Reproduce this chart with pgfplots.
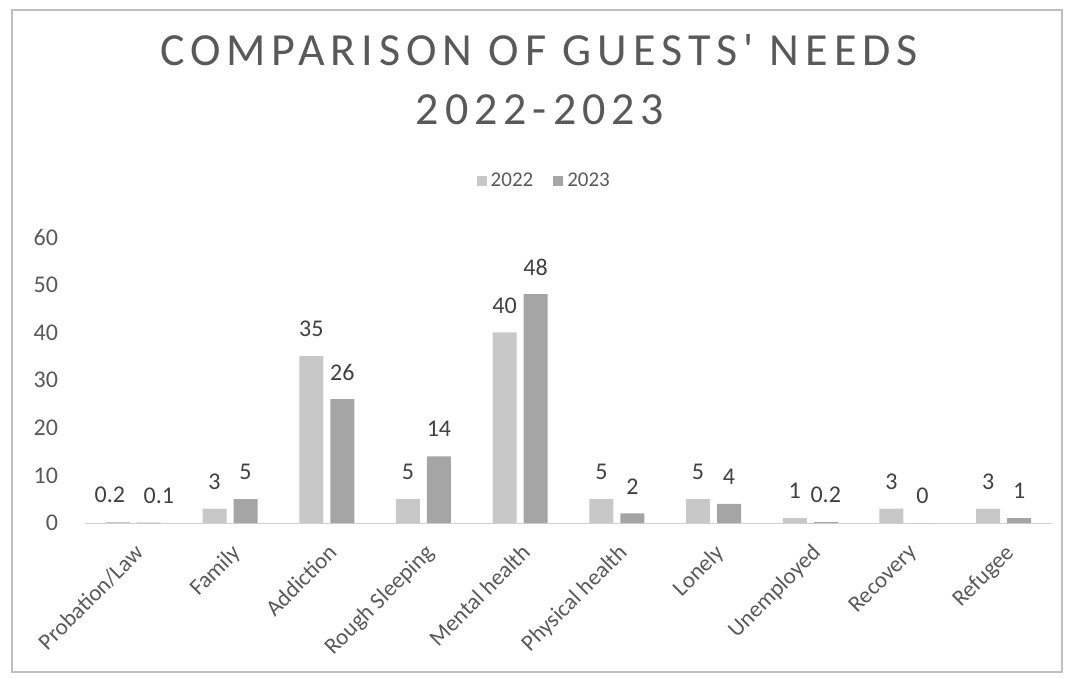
\documentclass[border=0pt]{standalone}
\usepackage{pgfplots}
\pgfplotsset{compat=1.18}
\usepackage{fontspec}
\setmainfont{Carlito}
\newfontfamily\titlefont[LetterSpace=13]{Carlito}
\definecolor{c2022}{RGB}{200,200,200}
\definecolor{c2023}{RGB}{165,165,165}
\definecolor{txt}{RGB}{89,89,89}
\definecolor{lbl}{RGB}{64,64,64}
\begin{document}
\begin{tikzpicture}
% 1 px of the reference = 0.5pt, origin top left
\path[use as bounding box] (0,0) rectangle (533pt,-339.5pt);
\draw[gray!50, line width=0.6pt] (6pt,-5pt) rectangle (531pt,-336pt);
\node[font=\titlefont\fontsize{23}{27}\selectfont, text=txt] at (269.5pt,-25pt) {COMPARISON OF GUESTS' NEEDS};
\node[font=\titlefont\fontsize{23}{27}\selectfont, text=txt] at (270pt,-55pt) {2022-2023};
\begin{axis}[
    at={(42.5pt,-261.5pt)}, anchor=south west,
    scale only axis,
    width=483.5pt, height=143pt,
    xmin=-0.5, xmax=9.5, ymin=0, ymax=60,
    ybar=3.5pt, bar width=12pt,
    xtick={0,...,9},
    xticklabels={Probation/Law, Family, Addiction, Rough Sleeping, Mental health,
                 Physical health, Lonely, Unemployed, Recovery, Refugee},
    ytick={0,10,...,60},
    /pgf/number format/assume math mode=true,
    axis x line*=bottom, axis y line*=left,
    x axis line style={draw=gray!35, -},
    y axis line style={draw=none},
    major tick length=0pt,
    tick label style={text=txt},
    yticklabel style={font=\fontsize{12}{14}\selectfont, xshift=-10pt},
    xticklabel style={font=\fontsize{11.5}{13}\selectfont, rotate=45, anchor=north east,
                      xshift=-3.5pt, yshift=-3.5pt},
    nodes near coords,
    every node near coord/.append style={font=\fontsize{12}{14}\selectfont, text=lbl,
                                        anchor=center, yshift=13.5pt},
    legend style={at={(0.476,1.196)}, anchor=center, draw=none, fill=none,
                  legend columns=2, font=\fontsize{10.5}{12}\selectfont, text=txt,
                  /tikz/every even column/.append style={column sep=8pt}},
    legend image code/.code={\fill[#1,draw=none] (0pt,-2.5pt) rectangle (5pt,2.5pt);},
  ]
  \addplot[fill=c2022, draw=none,
    every node near coord/.append style={xshift={(\coordindex==0)*(-4pt)}}]
    coordinates {(0,0.2) (1,3) (2,35) (3,5) (4,40) (5,5) (6,5) (7,1) (8,3) (9,3)};
  \addplot[fill=c2023, draw=none,
    every node near coord/.append style={xshift={(\coordindex==0)*(5pt)}}]
    coordinates {(0,0.1) (1,5) (2,26) (3,14) (4,48) (5,2) (6,4) (7,0.2) (8,0) (9,1)};
  \legend{2022, 2023}
\end{axis}
\end{tikzpicture}
\end{document}
